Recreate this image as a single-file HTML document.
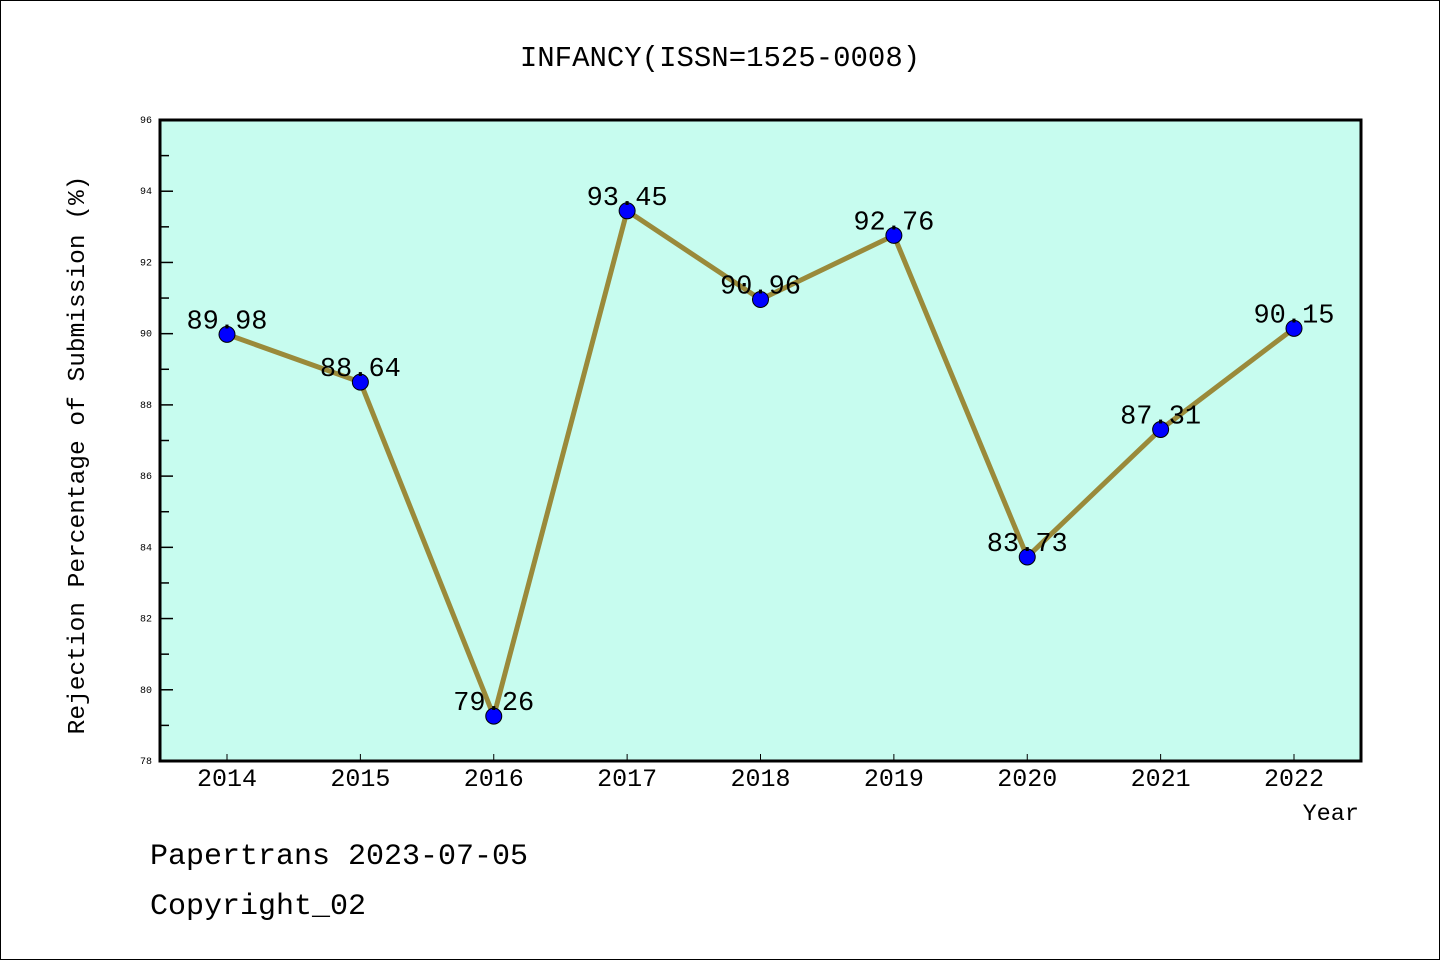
<!DOCTYPE html>
<html><head><meta charset="utf-8"><style>
body{margin:0;background:#fff}
svg{display:block}
text{font-family:"Liberation Mono","Noto Sans CJK SC",monospace}
</style></head><body>
<svg id="chart" width="1440" height="960" xmlns="http://www.w3.org/2000/svg">
<rect x="0.5" y="0.5" width="1439" height="959" fill="#fff" stroke="#000"/>
<text x="720" y="66" text-anchor="middle" font-size="29">INFANCY(ISSN=1525-0008)</text>
<rect x="160" y="120" width="1201" height="641" fill="#c7fcef"/>
<g id="yaxis"></g>
<g id="xaxis"></g>
<g id="series"></g>
<rect x="160" y="120" width="1201" height="641" fill="none" stroke="#000" stroke-width="3"/>
<text transform="translate(84,455) rotate(-90)" text-anchor="middle" font-size="24.5">Rejection Percentage of Submission (%)</text>
<text x="1359" y="820" text-anchor="end" font-size="23.5">Year</text>
<text x="150" y="864" font-size="30">Papertrans 2023-07-05</text>
<text x="150" y="914" font-size="30">Copyright_02</text>
</svg>
<script>
const years = ["2014","2015","2016","2017","2018","2019","2020","2021","2022"];
const values = [89.98,88.64,79.26,93.45,90.96,92.76,83.73,87.31,90.15];
const labels = ["89.98","88.64","79.26","93.45","90.96","92.76","83.73","87.31","90.15"];
const yTicks = [78,80,82,84,86,88,90,92,94,96];
const NS="http://www.w3.org/2000/svg";
const X0=160,X1=1361,Y0=761,Y1=120,YMIN=78,YMAX=96;
function xs(i){return 227+i*(1294-227)/(years.length-1);}
function ys(v){return Y0-(v-YMIN)/(YMAX-YMIN)*(Y0-Y1);}
function mk(tag,a,parent){const e=document.createElementNS(NS,tag);for(const k in a)e.setAttribute(k,a[k]);parent.appendChild(e);return e;}
const ya=document.getElementById('yaxis'),xa=document.getElementById('xaxis'),se=document.getElementById('series');
for(let v=YMIN;v<=YMAX;v+=1){
  const major=yTicks.includes(v);
  const t=mk('line',{x1:X0,x2:X0+(major?13:9),y1:ys(v),y2:ys(v),stroke:'#000','stroke-width':1.5},ya);
  
  
}
yTicks.forEach(v=>{
  const t=mk('text',{x:X0-8,y:ys(v)+3,'text-anchor':'end','font-size':10},ya);t.textContent=v;
  
  
});
years.forEach((y,i)=>{
  const l=mk('line',{x1:xs(i),x2:xs(i),y1:Y0,y2:Y0-7,stroke:'#000','stroke-width':1},xa);
  
  
  const t=mk('text',{x:xs(i),y:786,'text-anchor':'middle','font-size':25},xa);t.textContent=y;
  
  
});
const pl=mk('polyline',{points:values.map((v,i)=>xs(i)+','+ys(v)).join(' '),fill:'none',stroke:'#9a8a3a','stroke-width':5,'stroke-linejoin':'round'},se);


values.forEach((v,i)=>{
  const c=mk('circle',{cx:xs(i),cy:ys(v),r:8,fill:'#0000ff',stroke:'#000','stroke-width':1},se);
  
  
  const t=mk('text',{x:xs(i),y:ys(v)-6,'text-anchor':'middle','font-size':27},se);t.textContent=labels[i];
  
  
});
</script>
</body></html>
